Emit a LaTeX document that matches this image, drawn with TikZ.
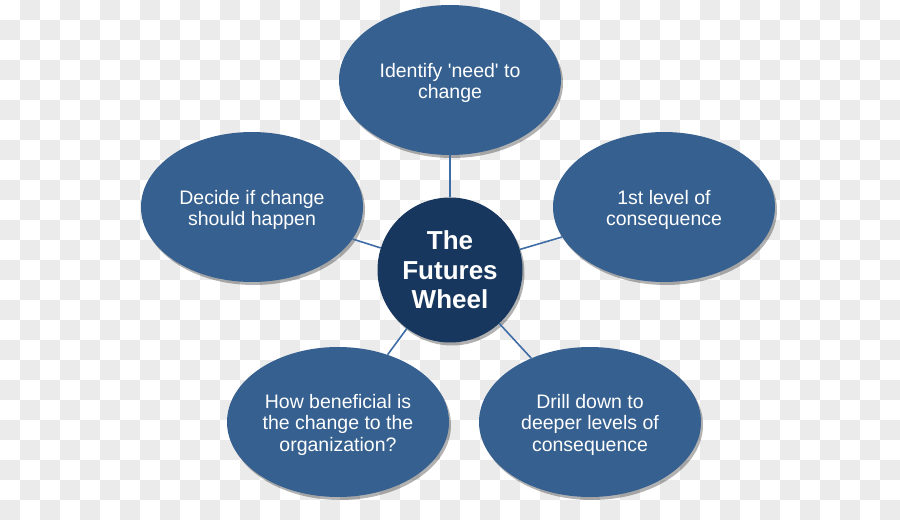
\documentclass[tikz,border=0pt]{standalone}
\usepackage{fontspec}
\setmainfont{Liberation Sans}[Ligatures=TeXOff]
\usetikzlibrary{shadows,shapes.geometric}
\definecolor{chkgray}{HTML}{EBEBEB}
\definecolor{ellblue}{HTML}{36608F}
\definecolor{hubblue}{HTML}{18375F}
\definecolor{linkblue}{HTML}{3F6DA6}
\newcommand{\lowertext}{\rule{0pt}{20pt}}
\tikzset{
  spoke/.style={ellipse, fill=ellblue, minimum width=222pt, minimum height=150pt, inner sep=0pt,
    text=white, align=center, font=\fontsize{19.5}{21.5}\selectfont,
    drop shadow={shadow xshift=2pt, shadow yshift=-3pt, opacity=0.3, fill=black}},
  hub/.style={circle, fill=hubblue, minimum size=145pt, inner sep=0pt,
    text=white, align=center, font=\bfseries\fontsize{26}{29.5}\selectfont,
    drop shadow={shadow xshift=2pt, shadow yshift=-3pt, opacity=0.3, fill=black}},
  link/.style={draw=linkblue, line width=1.6pt}
}
\begin{document}
\begin{tikzpicture}[x=1pt,y=1pt]
\useasboundingbox (0,0) rectangle (900,520);
\fill[white] (0,0) rectangle (900,520);
\foreach \i in {0,...,44}{
  \foreach \j in {0,...,25}{
    \pgfmathparse{int(mod(\i+\j,2))}
    \ifnum\pgfmathresult=1
      \fill[chkgray] (20*\i,520-20*\j) rectangle ++(20,-20);
    \fi
  }
}
\node[spoke] (top) at (450,440) {\lowertext Identify 'need' to\\change};
\node[spoke] (left) at (252,313) {\lowertext Decide if change\\should happen};
\node[spoke] (right) at (664,313) {\lowertext 1st level of\\consequence};
\node[spoke] (bl) at (338,98) {\lowertext How beneficial is\\the change to the\\organization?};
\node[spoke] (br) at (590,98) {\lowertext Drill down to\\deeper levels of\\consequence};
\node[hub] (c) at (450,250) {The\\Futures\\Wheel};
\draw[link] (c) -- (top);
\draw[link] (c) -- (left);
\draw[link] (c) -- (right);
\draw[link] (c) -- (bl);
\draw[link] (c) -- (br);
\end{tikzpicture}
\end{document}
